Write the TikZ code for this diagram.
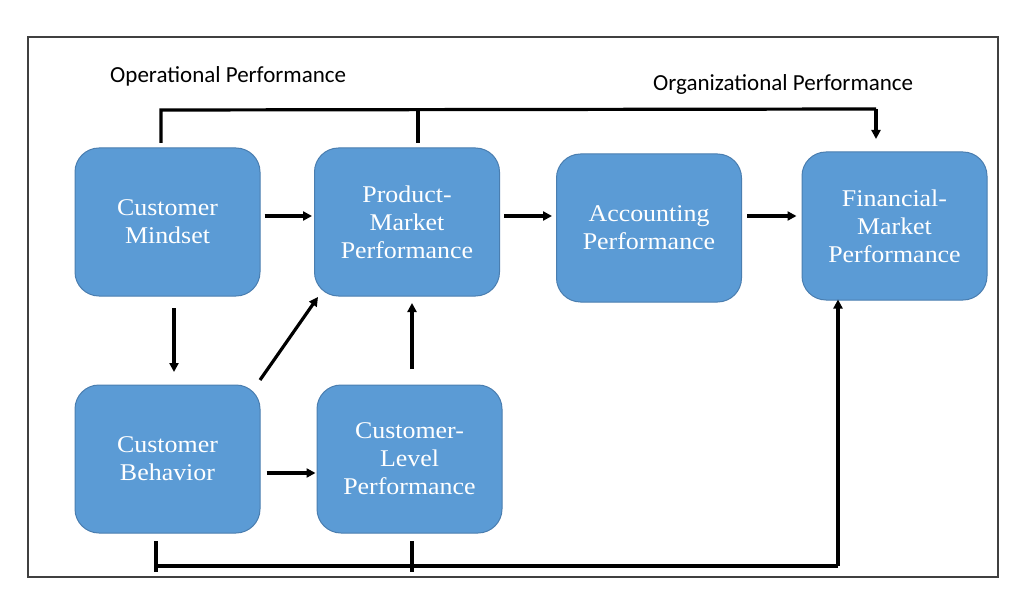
\documentclass[tikz,border=0pt]{standalone}
\usepackage{fontspec}
\setmainfont{Liberation Serif}[FakeStretch=1.08]
\newfontfamily\lblfont{Carlito}
\usetikzlibrary{arrows.meta}
\definecolor{boxfill}{HTML}{5B9BD5}
\definecolor{boxline}{HTML}{4A7EB0}
\tikzset{
  blk/.style={draw=boxline, line width=1pt, fill=boxfill, rounded corners=24pt,
    minimum width=185pt, minimum height=148pt, align=center, text=white,
    font=\fontsize{24}{28}\selectfont, inner sep=0pt},
  conn/.style={line width=3.2pt, -{Triangle[length=9pt,width=9pt]}},
  plain/.style={line width=3.2pt},
  lbl/.style={font=\lblfont\fontsize{23}{26}\selectfont, anchor=west, inner sep=0pt}
}
\begin{document}
\begin{tikzpicture}[x=1pt,y=-1pt]
\useasboundingbox (0,0) rectangle (1024,609);
\fill[white] (0,0) rectangle (1024,609);
\draw[line width=1.3pt, draw=black!75] (28,37) rectangle (998,577);

\node[blk] (cm) at (167.5,222) {Customer\\Mindset};
\node[blk] (pm) at (407,222) {Product-\\Market\\Performance};
\node[blk] (ac) at (649,228) {Accounting\\Performance};
\node[blk] (fm) at (894.5,226) {Financial-\\Market\\Performance};
\node[blk] (cb) at (167.5,459) {Customer\\Behavior};
\node[blk] (cl) at (409.5,459) {Customer-\\Level\\Performance};

\node[lbl] (op) at (110,76) {Operational Performance};
\node[lbl] (org) at (653,84) {Organizational Performance};

% horizontal arrows
\draw[conn] ([xshift=4pt]cm.east |- 0,216) -- ([xshift=-2pt]pm.west |- 0,216);
\draw[conn] ([xshift=4pt]pm.east |- 0,216) -- ([xshift=-4pt]ac.west |- 0,216);
\draw[conn] ([xshift=5pt]ac.east |- 0,216) -- ([xshift=-5pt]fm.west |- 0,216);
\draw[conn] ([xshift=6pt]cb.east |- 0,473) -- ([xshift=-1pt]cl.west |- 0,473);
% vertical arrows
\draw[conn] (174,308) -- (174,372);
\draw[conn] (412,369) -- (412,303);
\draw[conn] (260,380) -- (318,297);

% top connector
\coordinate (t1) at (161,143);
\coordinate (t2) at (418,143);
\coordinate (tr) at (876,109);
\coordinate (te) at (876,139);
\draw[plain] (t1) -- (161,110) -- (tr);
\draw[plain] (t2) -- (418,109.5);
\draw[conn] (tr) -- (te);

% bottom connector
\coordinate (b1) at (156,541);
\coordinate (b2) at (412,541);
\coordinate (br) at (838,566);
\draw[plain] (b1) -- (156,572);
\draw[plain] (b2) -- (412,572);
\draw[plain] (156,566) -- (br);
\draw[conn] (br) -- ([yshift=1pt]fm.south -| br);
\end{tikzpicture}
\end{document}
